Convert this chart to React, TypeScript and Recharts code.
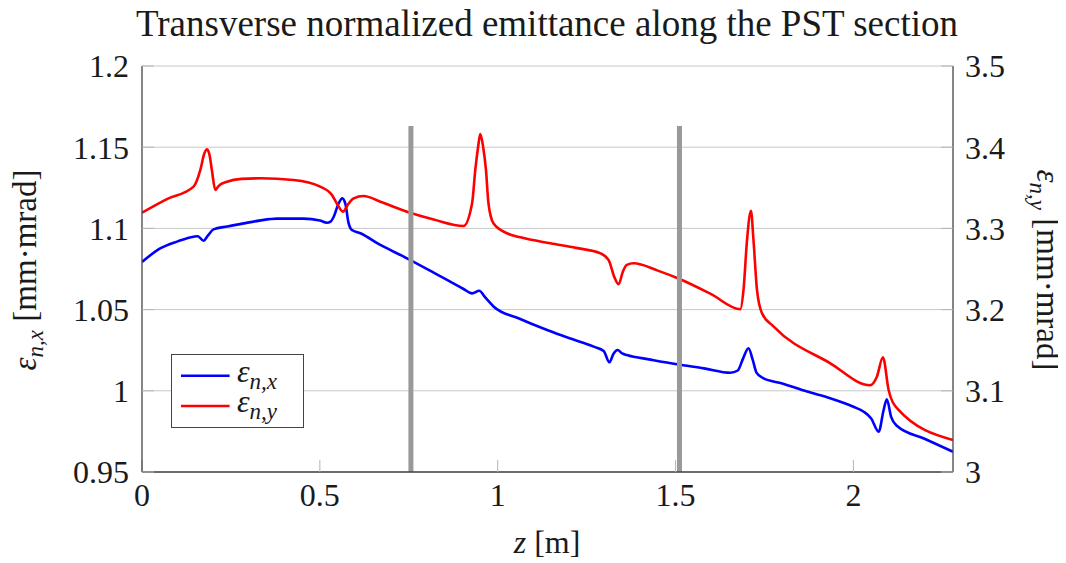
import React from 'react';
import {
  ComposedChart,
  Line,
  XAxis,
  YAxis,
  CartesianGrid,
  ReferenceLine,
  Legend,
} from 'recharts';

const FONT = '"Liberation Serif", "DejaVu Serif", serif';
const INK = '#1a1a1a';

// Axis ticks
const zTicks = [0, 0.5, 1, 1.5, 2];
const zDomain = [0, 2.28];
const xTicks = [0.95, 1, 1.05, 1.1, 1.15, 1.2];
const yTicks = [3, 3.1, 3.2, 3.3, 3.4, 3.5];

// Horizontal normalized emittance  eps_n,x  [mm·mrad] vs z [m]
const zX = [
  0, 0.051, 0.1, 0.145, 0.157, 0.173, 0.185, 0.201, 0.24, 0.286, 0.33, 0.38, 0.454, 0.5,
  0.52, 0.53, 0.539, 0.552, 0.563, 0.572, 0.58, 0.59, 0.614, 0.67, 0.745, 0.82, 0.904,
  0.928, 0.948, 0.965, 0.989, 1.06, 1.139, 1.2, 1.27, 1.298, 1.314, 1.326, 1.337, 1.35,
  1.363, 1.43, 1.504, 1.58, 1.654, 1.675, 1.69, 1.705, 1.717, 1.728, 1.745, 1.8, 1.87,
  1.935, 2.0, 2.029, 2.05, 2.071, 2.085, 2.094, 2.106, 2.123, 2.2, 2.28,
];
const epsX = [
  1.0793, 1.0877, 1.092, 1.0949, 1.0952, 1.0924, 1.0955, 1.0994, 1.1012, 1.1031, 1.1048,
  1.106, 1.106, 1.1048, 1.1035, 1.1042, 1.1072, 1.115, 1.1185, 1.115, 1.104, 1.099, 1.097,
  1.0898, 1.0816, 1.0728, 1.0627, 1.06, 1.0616, 1.0575, 1.0518, 1.0445, 1.0374, 1.0325,
  1.0272, 1.0245, 1.0176, 1.023, 1.0251, 1.023, 1.022, 1.0192, 1.0163, 1.0138, 1.0111,
  1.0125, 1.02, 1.0262, 1.019, 1.011, 1.008, 1.0045, 0.9995, 0.9954, 0.9902, 0.9871,
  0.983, 0.9748, 0.9882, 0.9948, 0.984, 0.9783, 0.9705, 0.9625,
];

// Vertical normalized emittance  eps_n,y  [mm·mrad] vs z [m]
const zY = [
  0, 0.07, 0.145, 0.164, 0.175, 0.183, 0.19, 0.197, 0.206, 0.215, 0.239, 0.28, 0.333,
  0.426, 0.501, 0.534, 0.55, 0.565, 0.58, 0.595, 0.623, 0.67, 0.745, 0.82, 0.904, 0.928,
  0.937, 0.945, 0.951, 0.959, 0.967, 0.974, 0.988, 1.026, 1.064, 1.148, 1.22, 1.289, 1.312,
  1.328, 1.34, 1.352, 1.363, 1.382, 1.45, 1.513, 1.6, 1.682, 1.691, 1.701, 1.712, 1.719,
  1.729, 1.743, 1.776, 1.935, 2.047, 2.066, 2.083, 2.099, 2.123, 2.28,
];
const epsY = [
  3.3193, 3.336, 3.3514, 3.372, 3.392, 3.3974, 3.39, 3.37, 3.3473, 3.352, 3.3575, 3.361,
  3.3617, 3.3596, 3.3514, 3.3411, 3.329, 3.3206, 3.33, 3.337, 3.3399, 3.3329, 3.3206,
  3.311, 3.303, 3.331, 3.372, 3.4006, 3.4163, 3.4006, 3.372, 3.331, 3.3063, 3.294, 3.289,
  3.2816, 3.276, 3.2693, 3.261, 3.24, 3.2312, 3.247, 3.255, 3.257, 3.248, 3.2373, 3.219,
  3.2004, 3.224, 3.286, 3.3218, 3.286, 3.224, 3.1955, 3.179, 3.1339, 3.1068, 3.1174,
  3.1413, 3.101, 3.0784, 3.0394,
];

// Section boundaries (gray markers) and the height they reach on the left axis
const sectionBreaks = [0.756, 1.511];
const breakBottom = 0.95;
const breakTop = 1.163;

const seriesX = zX.map((z, i) => ({ z, v: epsX[i] }));
const seriesY = zY.map((z, i) => ({ z, v: epsY[i] }));

const W = 1058;
const H = 555;

const EpsAxisLabel = ({ posX, posY, rot, sub }: { posX: number; posY: number; rot: number; sub: string }) => (
  <g transform={`translate(${posX}, ${posY}) rotate(${rot})`}>
    <text x={0} y={0} textAnchor="middle" fontFamily={FONT} fontSize={33} fill={INK}>
      <tspan fontStyle="italic">ε</tspan>
      <tspan fontStyle="italic" fontSize={23} dy={7}>
        {sub}
      </tspan>
      <tspan dy={-7}> [mm·mrad]</tspan>
    </text>
  </g>
);

const ZLabel = () => (
  <text x={539} y={545} textAnchor="middle" fontFamily={FONT} fontSize={32} fill={INK}>
    <tspan fontStyle="italic">z</tspan>
    <tspan> [m]</tspan>
  </text>
);

const LegendBox = (props: any) => {
  const payload = props.payload || [];
  return (
    <div
      style={{
        width: 131,
        height: 72,
        border: '1px solid #444',
        background: '#fff',
      }}
    >
      <svg width={131} height={72} style={{ display: 'block' }}>
        {payload.map((p: any, i: number) => {
          const y = 20.7 + i * 30.3;
          return (
            <g key={i}>
              <line x1={9} x2={57.6} y1={y} y2={y} stroke={p.color} strokeWidth={2.6} />
              <text x={65} y={y + 6} fontFamily={FONT} fontSize={32} fill={INK}>
                <tspan fontStyle="italic">ε</tspan>
                <tspan fontStyle="italic" fontSize={23} dy={7}>
                  {p.value}
                </tspan>
              </text>
            </g>
          );
        })}
      </svg>
    </div>
  );
};

export default function App() {
  return (
    <div style={{ position: 'relative', width: W, height: H }}>
      <div
        style={{
          position: 'absolute',
          left: 28,
          top: -3,
          width: 1022,
          textAlign: 'center',
          fontFamily: FONT,
          fontSize: 37,
          lineHeight: '37px',
          color: INK,
          whiteSpace: 'nowrap',
        }}
      >
        Transverse normalized emittance along the PST section
      </div>
      <ComposedChart width={W} height={H} margin={{ top: 58, right: 0, bottom: 0, left: 0 }}>
        <CartesianGrid yAxisId="left" vertical={false} stroke="#c8c8c8" strokeWidth={1} />
        <XAxis
          dataKey="z"
          type="number"
          domain={zDomain}
          ticks={zTicks}
          interval={0}
          allowDataOverflow
          height={91}
          tickSize={-12}
          tickMargin={23}
          tickLine={{ stroke: '#b5b5b5' }}
          axisLine={{ stroke: '#444', strokeWidth: 1.3 }}
          tick={{ fontFamily: FONT, fontSize: 32, fill: INK }}
          label={<ZLabel />}
        />
        <XAxis
          xAxisId="top"
          orientation="top"
          dataKey="z"
          type="number"
          domain={zDomain}
          ticks={zTicks}
          interval={0}
          allowDataOverflow
          height={0}
          tickSize={-12}
          tick={false}
          tickLine={{ stroke: '#b5b5b5' }}
          axisLine={{ stroke: '#444', strokeWidth: 1.3 }}
        />
        <YAxis
          yAxisId="left"
          type="number"
          domain={[0.95, 1.2]}
          ticks={xTicks}
          interval={0}
          width={134}
          tickSize={-12}
          tickMargin={25}
          tickLine={{ stroke: '#b5b5b5' }}
          axisLine={{ stroke: '#444', strokeWidth: 1.3 }}
          tick={{ fontFamily: FONT, fontSize: 32, fill: INK }}
          label={<EpsAxisLabel posX={28} posY={262} rot={-90} sub="n,x" />}
        />
        <YAxis
          yAxisId="right"
          orientation="right"
          type="number"
          domain={[3, 3.5]}
          ticks={yTicks}
          interval={0}
          width={113}
          tickSize={-12}
          tickMargin={24}
          tickLine={{ stroke: '#b5b5b5' }}
          axisLine={{ stroke: '#444', strokeWidth: 1.3 }}
          tick={{ fontFamily: FONT, fontSize: 32, fill: INK }}
          label={<EpsAxisLabel posX={1029} posY={262} rot={90} sub="n,y" />}
        />
        <Line
          data={seriesX}
          yAxisId="left"
          dataKey="v"
          name="n,x"
          type="monotone"
          stroke="#0000ff"
          strokeWidth={2.6}
          dot={false}
          activeDot={false}
          isAnimationActive={false}
        />
        <Line
          data={seriesY}
          yAxisId="right"
          dataKey="v"
          name="n,y"
          type="monotone"
          stroke="#ff0000"
          strokeWidth={2.6}
          dot={false}
          activeDot={false}
          isAnimationActive={false}
        />
        {sectionBreaks.map((z) => (
          <ReferenceLine
            key={z}
            yAxisId="left"
            segment={[
              { x: z, y: breakBottom },
              { x: z, y: breakTop },
            ]}
            stroke="#999999"
            strokeWidth={5}
          />
        ))}
        <Legend
          layout="vertical"
          align="center"
          verticalAlign="middle"
          content={<LegendBox />}
          wrapperStyle={{ left: 163, top: 346, width: 133, height: 74 }}
        />
      </ComposedChart>
    </div>
  );
}
